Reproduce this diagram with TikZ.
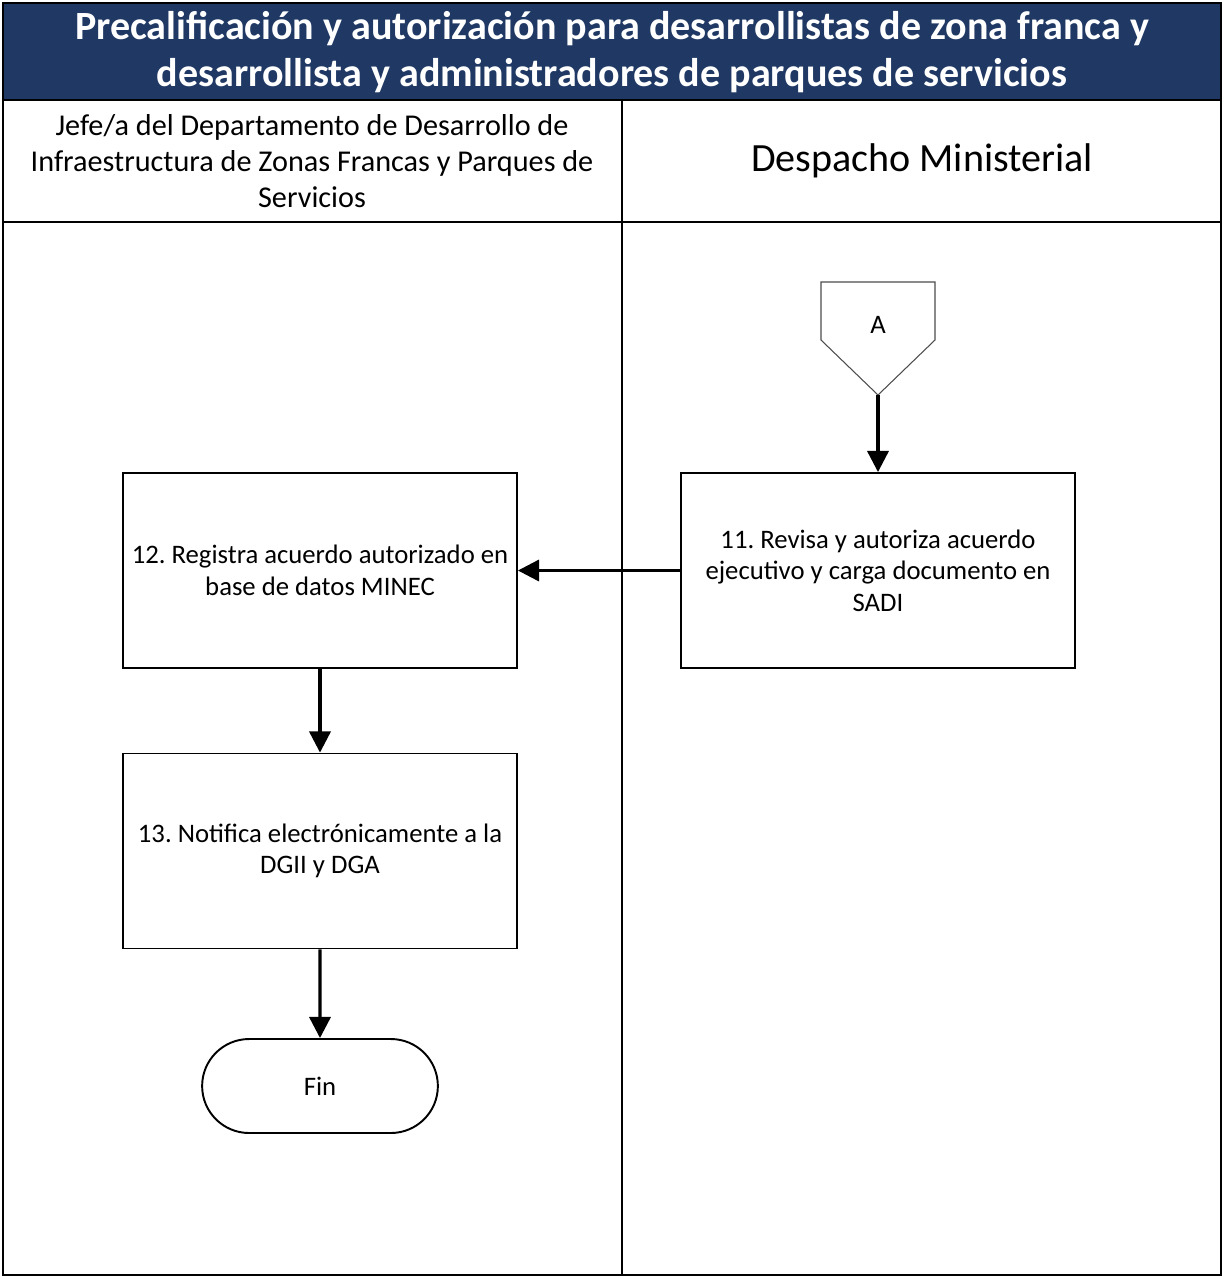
\documentclass[tikz,border=0pt]{standalone}
\usepackage{fontspec}
\setmainfont{Carlito}
\frenchspacing
\usetikzlibrary{positioning,arrows.meta,shapes.misc}

\definecolor{titleblue}{RGB}{31,56,100}

\begin{document}
\begin{tikzpicture}[x=0.02cm, y=-0.02cm,
    lane/.style={draw, line width=1.2pt},
    proc/.style={draw, line width=1.1pt, minimum width=7.88cm, minimum height=3.9cm, align=center, font=\fontsize{15.2}{18}\selectfont},
    term/.style={draw, line width=1.1pt, rounded rectangle, minimum width=4.76cm, minimum height=1.88cm, font=\fontsize{15.2}{18}\selectfont},
    flow/.style={line width=1.8pt, -{Triangle[length=12pt,width=12pt]}}]
    \useasboundingbox (0,0) rectangle (1225,1279);

    % title bar and lanes
    \fill[titleblue] (3,3) rectangle (1221,100);
    \draw[lane] (3,3) rectangle (1221,1275);
    \draw[lane] (3,100) -- (1221,100);
    \draw[lane] (3,222) -- (1221,222);
    \draw[lane] (622,100) -- (622,1275);

    \node[text=white, font=\bfseries\fontsize{22.8}{26.6}\selectfont, align=center] (title) at (612,52)
        {Precalificación y autorización para desarrollistas de zona franca y\\desarrollista y administradores de parques de servicios};
    \node[font=\fontsize{17.2}{20.4}\selectfont, align=center] (jefe) at (312,161)
        {Jefe/a del Departamento de Desarrollo de\\Infraestructura de Zonas Francas y Parques de\\Servicios};
    \node[font=\fontsize{22.8}{25}\selectfont] (despacho) at (922,161) {Despacho Ministerial};

    % off-page connector
    \draw[line width=0.6pt, black!70] (821,282) -- (935,282) -- (935,340) -- (878,395) -- (821,340) -- cycle;
    \node[font=\fontsize{15.2}{18}\selectfont] (conA) at (878,325) {A};
    \coordinate (tipA) at (878,395);

    \node[proc] (b11) at (878,570.5) {11. Revisa y autoriza acuerdo\\ejecutivo y carga documento en\\SADI};
    \node[proc] (b12) at (320,570.5) {12. Registra acuerdo autorizado en\\base de datos MINEC};
    \node[proc] (b13) at (320,851) {13. Notifica electrónicamente a la\\DGII y DGA};
    \node[term, minimum width=4.95cm] (fin) at (320,1086) {Fin};

    \draw[flow] (tipA) -- (b11);
    \draw[flow] (b11) -- (b12);
    \draw[flow] (b12) -- (b13);
    \draw[flow] (b13) -- (fin);
\end{tikzpicture}
\end{document}
